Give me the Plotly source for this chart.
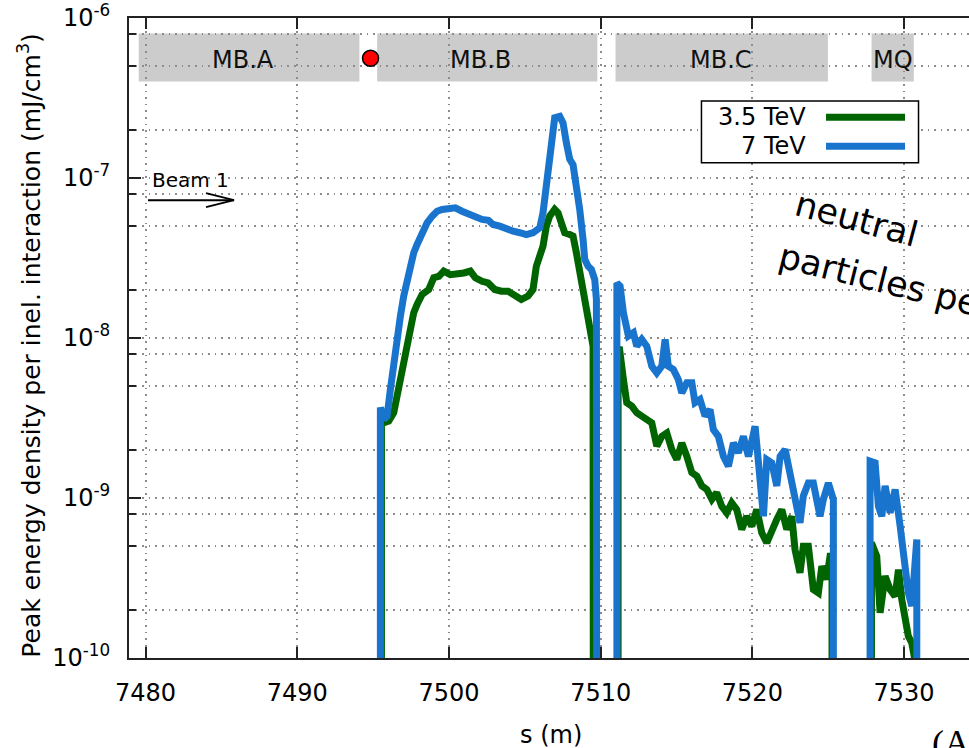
import math
import plotly.graph_objects as go

# Peak energy density per inelastic interaction along the beam line.
# A value of 1e-11 lies below the axis and marks stretches with no deposit.
FLOOR = 1e-11

s_35tev = [
    7495.55, 7495.55, 7495.70, 7496.03, 7496.36, 7496.58, 7496.80, 7497.02, 7497.24,
    7497.46, 7497.68, 7497.90, 7498.23, 7498.67, 7499.00, 7499.33, 7499.66, 7500.09,
    7500.53, 7500.98, 7501.41, 7501.74, 7502.18, 7502.58, 7503.02, 7503.45, 7503.90,
    7504.34, 7504.77, 7505.21, 7505.54, 7505.76, 7505.99, 7506.20, 7506.42, 7506.64,
    7506.97, 7507.19, 7507.41, 7507.63, 7507.96, 7508.18, 7508.40, 7508.62, 7508.84,
    7509.06, 7509.28, 7509.50, 7509.52,
    7509.52, 7511.15,
    7511.15, 7511.25, 7511.50, 7511.72, 7512.05, 7512.38, 7512.71, 7513.04, 7513.37,
    7513.70, 7514.03, 7514.36, 7514.69, 7515.02, 7515.35, 7515.68, 7516.01, 7516.34,
    7516.67, 7517.00, 7517.33, 7517.65, 7517.98, 7518.31, 7518.64, 7518.97, 7519.30,
    7519.63, 7519.96, 7520.29, 7520.62, 7520.95, 7521.28, 7521.61, 7521.94, 7522.27,
    7522.60, 7522.81, 7523.14, 7523.36, 7523.69, 7524.02, 7524.35, 7524.58, 7524.90,
    7525.12, 7525.25,
    7525.25, 7527.85,
    7527.85, 7528.20, 7528.42, 7528.75, 7529.08, 7529.41, 7529.63, 7529.85, 7530.07,
    7530.28, 7530.51, 7530.73, 7530.75,
]
edens_35tev = [
    FLOOR, 2.95e-9, 2.95e-9, 3.02e-9, 3.41e-9, 4.33e-9, 5.77e-9, 7.69e-9, 9.80e-9,
    1.13e-8, 1.44e-8, 1.62e-8, 1.87e-8, 2.01e-8, 2.38e-8, 2.43e-8, 2.62e-8, 2.49e-8,
    2.49e-8, 2.55e-8, 2.62e-8, 2.38e-8, 2.26e-8, 2.21e-8, 2.01e-8, 1.96e-8, 1.96e-8,
    1.87e-8, 1.74e-8, 1.83e-8, 2.01e-8, 2.81e-8, 3.25e-8, 3.75e-8, 5.00e-8, 5.77e-8,
    6.36e-8, 6.06e-8, 5.25e-8, 4.55e-8, 4.43e-8, 4.33e-8, 3.41e-8, 2.55e-8, 1.92e-8,
    1.44e-8, 1.13e-8, 8.89e-9, FLOOR,
    FLOOR, FLOOR,
    8.50e-9, 8.47e-9, 5.50e-9, 3.94e-9, 3.75e-9, 3.41e-9, 3.25e-9, 3.10e-9, 2.95e-9,
    2.11e-9, 2.43e-9, 2.55e-9, 2.01e-9, 1.74e-9, 2.21e-9, 1.82e-9, 1.44e-9, 1.37e-9,
    1.19e-9, 1.13e-9, 9.80e-10, 1.08e-9, 8.89e-10, 8.08e-10, 9.33e-10, 8.47e-10, 6.36e-10,
    7.69e-10, 6.67e-10, 8.47e-10, 6.06e-10, 5.25e-10, 6.36e-10, 7.34e-10, 8.47e-10, 6.36e-10,
    7.69e-10, 4.77e-10, 3.41e-10, 5.00e-10, 5.00e-10, 2.68e-10, 2.55e-10, 3.75e-10, 3.10e-10,
    4.33e-10, 4.33e-10,
    FLOOR, FLOOR,
    5.25e-10, 4.33e-10, 1.92e-10, 3.25e-10, 2.68e-10, 2.43e-10, 3.57e-10, 2.32e-10, 1.74e-10,
    1.37e-10, 1.24e-10, 9.50e-11, FLOOR,
]

s_7tev = [
    7495.48, 7495.48, 7495.72, 7495.92, 7496.14, 7496.36, 7496.58, 7496.80, 7497.02,
    7497.24, 7497.46, 7497.68, 7497.90, 7498.11, 7498.34, 7498.56, 7498.89, 7499.22,
    7499.55, 7499.99, 7500.42, 7500.86, 7501.31, 7501.74, 7502.18, 7502.60, 7502.91,
    7503.35, 7503.78, 7504.23, 7504.67, 7505.10, 7505.54, 7505.99, 7506.20, 7506.42,
    7506.64, 7506.86, 7506.97, 7507.30, 7507.52, 7507.74, 7507.96, 7508.18, 7508.40,
    7508.62, 7508.84, 7508.95, 7509.17, 7509.39, 7509.61, 7509.72, 7509.74,
    7509.74, 7511.07,
    7511.07, 7511.28, 7511.50, 7511.83, 7512.16, 7512.38, 7512.71, 7513.04, 7513.37,
    7513.70, 7514.03, 7514.25, 7514.46, 7514.79, 7515.12, 7515.35, 7515.68, 7516.01,
    7516.22, 7516.55, 7516.88, 7517.21, 7517.43, 7517.76, 7518.09, 7518.42, 7518.75,
    7519.08, 7519.41, 7519.74, 7520.18, 7520.40, 7520.73, 7520.95, 7521.28, 7521.61,
    7521.83, 7522.16, 7522.49, 7522.81, 7523.14, 7523.36, 7523.69, 7524.02, 7524.25,
    7524.46, 7524.68, 7525.01, 7525.34,
    7525.34, 7527.76,
    7527.76, 7528.09, 7528.31, 7528.53, 7528.75, 7529.08, 7529.41, 7529.74, 7530.07,
    7530.28, 7530.51, 7530.73, 7530.84,
    7530.84,
]
edens_7tev = [
    FLOOR, 3.68e-9, 3.10e-9, 3.25e-9, 4.77e-9, 7.03e-9, 1.03e-8, 1.37e-8, 1.83e-8,
    2.32e-8, 2.81e-8, 3.41e-8, 3.84e-8, 4.33e-8, 4.77e-8, 5.25e-8, 5.77e-8, 6.20e-8,
    6.36e-8, 6.51e-8, 6.51e-8, 6.20e-8, 5.91e-8, 5.77e-8, 5.51e-8, 5.44e-8, 5.12e-8,
    5.00e-8, 4.77e-8, 4.65e-8, 4.55e-8, 4.43e-8, 4.55e-8, 4.89e-8, 6.06e-8, 8.89e-8,
    1.44e-7, 2.01e-7, 2.38e-7, 2.43e-7, 2.21e-7, 1.66e-7, 1.31e-7, 1.21e-7, 9.33e-8,
    6.36e-8, 4.13e-8, 3.10e-8, 2.81e-8, 2.68e-8, 2.32e-8, 1.74e-8, FLOOR,
    FLOOR, FLOOR,
    2.21e-8, 2.11e-8, 1.44e-8, 1.03e-8, 1.08e-8, 8.89e-9, 9.80e-9, 8.89e-9, 6.67e-9,
    6.06e-9, 6.67e-9, 9.80e-9, 6.67e-9, 6.36e-9, 5.50e-9, 4.54e-9, 5.25e-9, 5.25e-9,
    3.94e-9, 4.13e-9, 3.25e-9, 3.57e-9, 2.68e-9, 2.43e-9, 1.82e-9, 1.58e-9, 2.21e-9,
    1.92e-9, 2.43e-9, 1.82e-9, 2.81e-9, 1.58e-9, 7.69e-10, 1.74e-9, 1.66e-9, 1.19e-9,
    1.82e-9, 2.01e-9, 1.37e-9, 9.80e-10, 7.00e-10, 1.03e-9, 1.24e-9, 1.24e-9, 9.80e-10,
    7.69e-10, 9.80e-10, 1.24e-9, 9.80e-10,
    FLOOR, FLOOR,
    1.70e-9, 1.66e-9, 8.89e-10, 7.69e-10, 1.19e-9, 8.08e-10, 1.13e-9, 6.67e-10, 3.75e-10,
    2.55e-10, 2.11e-10, 5.50e-10, 5.50e-10,
    FLOOR,
]

# Magnet layout drawn as grey bars along the top
magnet_names = ["MB.A", "MB.B", "MB.C", "MQ"]
magnet_start = [7479.55, 7495.27, 7510.98, 7527.86]
magnet_end = [7494.10, 7509.78, 7524.98, 7530.64]
magnet_label_s = [7486.4, 7502.1, 7517.9, 7529.3]

# Interaction point marker
ip_s = [7494.83]
ip_edens = [5.6e-7]

x_ticks = [7480, 7490, 7500, 7510, 7520, 7530]
y_major = [1e-10, 1e-9, 1e-8, 1e-7, 1e-6]
y_major_text = ["10<sup>-10</sup>", "10<sup>-9</sup>", "10<sup>-8</sup>",
                "10<sup>-7</sup>", "10<sup>-6</sup>"]
y_minor = [2e-10, 5e-10, 8e-10, 2e-9, 5e-9, 8e-9, 2e-8, 5e-8, 8e-8,
           2e-7, 5e-7, 8e-7]

GREEN = "#006400"
BLUE = "#1874cd"
GRID = "#8c8c8c"
GRID_DASH = "1.6px,5px"
AXIS = "#222222"
FONT = "DejaVu Sans"
LW = 7

fig = go.Figure()
fig.add_trace(go.Scatter(x=s_35tev, y=edens_35tev, mode="lines", name="3.5 TeV",
                         line=dict(color=GREEN, width=LW), showlegend=False))
fig.add_trace(go.Scatter(x=s_7tev, y=edens_7tev, mode="lines", name="7 TeV",
                         line=dict(color=BLUE, width=LW), showlegend=False))
fig.add_trace(go.Scatter(x=ip_s, y=ip_edens, mode="markers", showlegend=False,
                         marker=dict(color="#ff0000", size=16,
                                     line=dict(color="black", width=1.5))))

shapes = []
for a, b in zip(magnet_start, magnet_end):
    shapes.append(dict(type="rect", xref="x", yref="paper", x0=a, x1=b,
                       y0=0.9007, y1=0.9758, fillcolor="#cccccc",
                       line=dict(width=0), layer="below"))

# Pointer from the 3.5 TeV maximum towards the note on the right
imax = max(range(len(edens_35tev)), key=lambda i: edens_35tev[i])
px0 = s_35tev[imax]
py0 = math.log10(edens_35tev[imax])
shapes.append(dict(type="line", xref="x", yref="y", x0=px0, y0=py0,
                   x1=px0 + 38.0, y1=py0 - 38.0 * 0.0263,
                   line=dict(color="black", width=2)))

# Beam direction arrow
shapes.append(dict(type="line", xref="paper", yref="paper", x0=0.0226, x1=0.125,
                   y0=0.7154, y1=0.7154, line=dict(color="black", width=2)))
shapes.append(dict(type="path", xref="paper", yref="paper",
                   path="M 0.0917 0.7264 L 0.125 0.7154 L 0.0917 0.7045",
                   line=dict(color="black", width=2)))

# Key box
shapes.append(dict(type="rect", xref="paper", yref="paper", x0=0.6815, x1=0.9399,
                   y0=0.7740, y1=0.8702, fillcolor="white",
                   line=dict(color="black", width=1.5)))
shapes.append(dict(type="line", xref="paper", yref="paper", x0=0.8298, x1=0.9238,
                   y0=0.8449, y1=0.8449, line=dict(color=GREEN, width=LW)))
shapes.append(dict(type="line", xref="paper", yref="paper", x0=0.8298, x1=0.9238,
                   y0=0.7995, y1=0.7995, line=dict(color=BLUE, width=LW)))

annotations = []
for name, s in zip(magnet_names, magnet_label_s):
    annotations.append(dict(text=name, x=s, xref="x", y=0.935, yref="paper",
                            showarrow=False, xanchor="center", yanchor="middle",
                            font=dict(size=24, color="#111111")))
annotations += [
    dict(text="3.5 TeV", x=0.8083, y=0.8449, xref="paper", yref="paper",
         xanchor="right", yanchor="middle", showarrow=False, font=dict(size=24)),
    dict(text="7 TeV", x=0.8083, y=0.7995, xref="paper", yref="paper",
         xanchor="right", yanchor="middle", showarrow=False, font=dict(size=24)),
    dict(text="Beam 1", x=0.025, y=0.7475, xref="paper", yref="paper",
         xanchor="left", yanchor="middle", showarrow=False, font=dict(size=20)),
    dict(text="s (m)", x=0.5024, y=-0.1204, xref="paper", yref="paper",
         xanchor="center", yanchor="middle", showarrow=False, font=dict(size=24)),
    dict(text="Peak energy density per inel. interaction (mJ/cm<sup>3</sup>)",
         x=-0.1179, y=0.4895, xref="paper", yref="paper", textangle=-90,
         xanchor="center", yanchor="middle", showarrow=False, font=dict(size=25)),
    dict(text="neutral", x=0.8655, y=0.6865, xref="paper", yref="paper",
         textangle=15, xanchor="center", yanchor="middle", showarrow=False,
         font=dict(size=35, family="DejaVu Sans")),
    dict(text="particles peak", x=0.9179, y=0.5833, xref="paper", yref="paper",
         textangle=14, xanchor="center", yanchor="middle", showarrow=False,
         font=dict(size=35, family="DejaVu Sans")),
    dict(text="(A)", x=0.9536, y=-0.1329, xref="paper", yref="paper",
         xanchor="left", yanchor="middle", showarrow=False,
         font=dict(size=36, family="Liberation Serif")),
]

fig.update_layout(
    width=969, height=748,
    margin=dict(l=129, r=0, t=18, b=90),
    paper_bgcolor="white", plot_bgcolor="white",
    font=dict(family=FONT, size=24, color="black"),
    showlegend=False,
    shapes=shapes,
    annotations=annotations,
    xaxis=dict(
        range=[7478.91, 7534.28], tickvals=x_ticks,
        ticks="inside", ticklen=11, tickwidth=1.5, tickcolor=AXIS,
        showline=True, linecolor=AXIS, linewidth=2, mirror="ticks",
        showgrid=True, gridcolor=GRID, gridwidth=1.5, griddash=GRID_DASH,
        zeroline=False, ticklabelstandoff=12,
    ),
    yaxis=dict(
        type="log", range=[-10, -6],
        tickvals=y_major, ticktext=y_major_text,
        ticks="inside", ticklen=12, tickwidth=1.5, tickcolor=AXIS,
        showline=True, linecolor=AXIS, linewidth=2, mirror=False,
        showgrid=True, gridcolor=GRID, gridwidth=1.5, griddash=GRID_DASH,
        minor=dict(tickvals=y_minor, ticks="inside", ticklen=7, tickwidth=1.5,
                   tickcolor=AXIS, showgrid=True, gridcolor=GRID,
                   gridwidth=1.5, griddash=GRID_DASH),
        zeroline=False, ticklabelstandoff=12,
    ),
    yaxis2=dict(
        type="log", range=[-10, -6], overlaying="y", side="right", anchor="x",
        tickvals=y_major, showticklabels=False,
        ticks="inside", ticklen=12, tickwidth=1.5, tickcolor=AXIS,
        showline=False, showgrid=False, zeroline=False,
        minor=dict(tickvals=y_minor, ticks="inside", ticklen=7, tickwidth=1.5,
                   tickcolor=AXIS, showgrid=False),
    ),
)

fig.write_html("out.html")
